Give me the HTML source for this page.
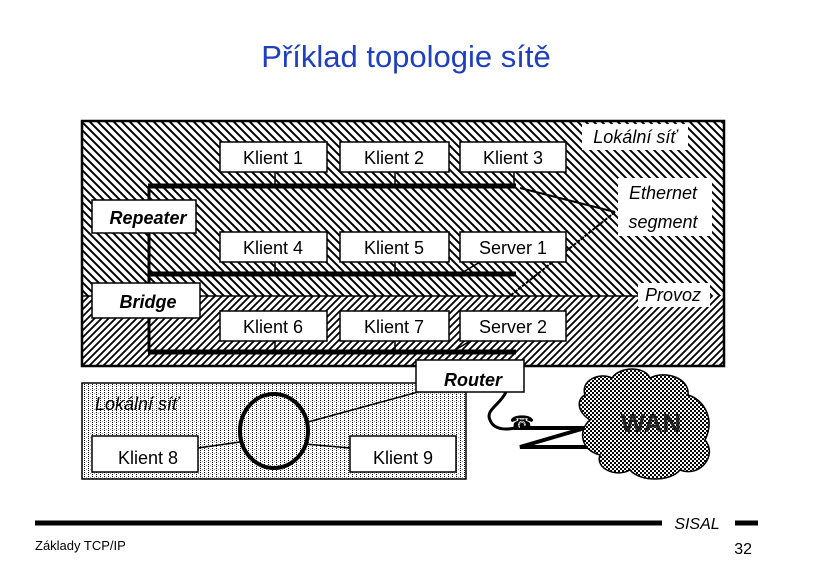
<!DOCTYPE html>
<html><head><meta charset="utf-8"><style>
html,body{margin:0;padding:0;background:#fff;}
svg{display:block;}
text{font-family:"Liberation Sans",sans-serif;}
</style></head><body>
<svg width="813" height="570" viewBox="0 0 813 570" xmlns="http://www.w3.org/2000/svg">
<defs>
<pattern id="bs" width="8" height="8" patternUnits="userSpaceOnUse">
<rect width="8" height="8" fill="#fff"/>
<path d="M-2,-2 L10,10 M-2,6 L2,10 M6,-2 L10,2" stroke="#000" stroke-width="2"/>
</pattern>
<pattern id="fs" width="7" height="7" patternUnits="userSpaceOnUse">
<rect width="7" height="7" fill="#fff"/>
<path d="M-2,9 L9,-2 M-2,2 L2,-2 M5,9 L9,5" stroke="#000" stroke-width="1.8"/>
</pattern>
<pattern id="dt" width="4" height="4" patternUnits="userSpaceOnUse">
<rect width="4" height="4" fill="#fff"/>
<rect x="0" y="0" width="1" height="1" fill="#000"/>
<rect x="0" y="2" width="1" height="1" fill="#000"/>
<rect x="2" y="1" width="1" height="1" fill="#999"/>
</pattern>
<pattern id="ck" width="4" height="4" patternUnits="userSpaceOnUse">
<rect width="4" height="4" fill="#fff"/>
<rect x="0" y="0" width="2" height="2" fill="#000"/>
<rect x="2" y="2" width="2" height="2" fill="#000"/>
</pattern>
</defs>
<text x="406" y="67" font-size="31" fill="#1f3fbf" text-anchor="middle">Příklad topologie sítě</text>

<rect x="82" y="121" width="642" height="175" fill="url(#bs)"/>
<rect x="82" y="296" width="642" height="70" fill="url(#fs)"/>
<rect x="82" y="121" width="642" height="245" fill="none" stroke="#000" stroke-width="2.5"/>
<line x1="82" y1="296" x2="700" y2="296" stroke="#000" stroke-width="1.5"/>

<g stroke="#000" stroke-width="5" fill="none">
<line x1="148" y1="186" x2="516" y2="186"/>
<line x1="148" y1="274" x2="516" y2="274"/>
<line x1="148" y1="352" x2="516" y2="352"/>
<line x1="149" y1="186" x2="149" y2="352" stroke-width="3"/>
</g>
<g stroke="#000" stroke-width="1.5">
<line x1="275" y1="172" x2="275" y2="186"/><line x1="395" y1="172" x2="395" y2="186"/><line x1="514" y1="172" x2="514" y2="186"/>
<line x1="275" y1="262" x2="275" y2="274"/><line x1="395" y1="262" x2="395" y2="274"/><line x1="480" y1="262" x2="460" y2="274"/>
<line x1="275" y1="341" x2="275" y2="352"/><line x1="395" y1="341" x2="395" y2="352"/><line x1="470" y1="341" x2="452" y2="352"/>
<line x1="615" y1="212" x2="520" y2="188" stroke-width="2"/>
<line x1="615" y1="212" x2="505" y2="300" stroke-width="2" stroke-dasharray="4,1"/>
</g>

<g fill="#fff" stroke="#000" stroke-width="1.5">
<rect x="220" y="142" width="107" height="30"/><rect x="340" y="142" width="109" height="30"/><rect x="460" y="142" width="106" height="30"/>
<rect x="220" y="232" width="107" height="30"/><rect x="340" y="232" width="109" height="30"/><rect x="460" y="232" width="106" height="30"/>
<rect x="220" y="311" width="107" height="30"/><rect x="340" y="311" width="109" height="30"/><rect x="460" y="311" width="106" height="30"/>
<rect x="92" y="200" width="104" height="33"/><rect x="92" y="283" width="108" height="35"/>
</g>
<g fill="#fff">
<rect x="582" y="124" width="106" height="26"/><rect x="618" y="178" width="94" height="58"/><rect x="638" y="283" width="72" height="24"/>
</g>
<g font-size="18" text-anchor="middle">
<text x="273" y="164">Klient 1</text><text x="394" y="164">Klient 2</text><text x="513" y="164">Klient 3</text>
<text x="273" y="254">Klient 4</text><text x="394" y="254">Klient 5</text><text x="513" y="254">Server 1</text>
<text x="273" y="333">Klient 6</text><text x="394" y="333">Klient 7</text><text x="513" y="333">Server 2</text>
</g>
<g font-size="18" font-style="italic" font-weight="bold" text-anchor="middle">
<text x="148" y="224">Repeater</text><text x="148" y="308">Bridge</text>
</g>
<g font-size="18" font-style="italic" text-anchor="middle">
<text x="635" y="143">Lokální síť</text>
<text x="663" y="199">Ethernet</text><text x="663" y="228">segment</text>
<text x="673" y="301">Provoz</text>
</g>

<rect x="82" y="383" width="384" height="96" fill="url(#dt)" stroke="#000" stroke-width="1.5"/>
<line x1="308" y1="422" x2="418" y2="392" stroke="#000" stroke-width="1.5"/>
<line x1="198" y1="448" x2="240" y2="442" stroke="#000" stroke-width="1.5"/>
<line x1="305" y1="444" x2="350" y2="448" stroke="#000" stroke-width="1.5"/>
<ellipse cx="274" cy="431" rx="34" ry="37" fill="url(#dt)" stroke="#000" stroke-width="4"/>
<g fill="#fff" stroke="#000" stroke-width="1.5">
<rect x="92" y="436" width="106" height="36"/><rect x="350" y="436" width="106" height="36"/>
<rect x="416" y="360" width="108" height="32"/>
</g>
<text x="95" y="410" font-size="18" font-style="italic">Lokální síť</text>
<text x="148" y="464" font-size="18" text-anchor="middle">Klient 8</text>
<text x="403" y="464" font-size="18" text-anchor="middle">Klient 9</text>
<text x="473" y="386" font-size="18" font-weight="bold" font-style="italic" text-anchor="middle">Router</text>

<path d="M506,392 C500,405 485,410 490,420 C494,430 505,430 515,428" fill="none" stroke="#000" stroke-width="3"/>
<text x="522" y="430" font-size="20" text-anchor="middle">☎</text>
<path d="M520,428 L585,428 L520,447 L590,447" fill="none" stroke="#000" stroke-width="4"/>
<path d="M585,395 C580,380 600,372 612,378 C620,366 645,366 650,378 C665,370 690,378 688,395 C705,400 715,420 705,440 C718,455 700,478 680,470 C670,482 640,482 630,470 C615,478 595,468 600,455 C580,450 578,430 590,420 C575,410 578,398 585,395 Z" fill="url(#ck)" stroke="#000" stroke-width="1.5"/>
<text x="651" y="432" font-size="26" font-weight="bold" fill="#222" text-anchor="middle">WAN</text>

<line x1="35" y1="523" x2="662" y2="523" stroke="#000" stroke-width="5"/>
<line x1="735" y1="523" x2="758" y2="523" stroke="#000" stroke-width="5"/>
<text x="697" y="529" font-size="16" font-style="italic" text-anchor="middle">SISAL</text>
<text x="35" y="550" font-size="13">Základy TCP/IP</text>
<text x="752" y="554" font-size="16" text-anchor="end">32</text>
</svg>
</body></html>
